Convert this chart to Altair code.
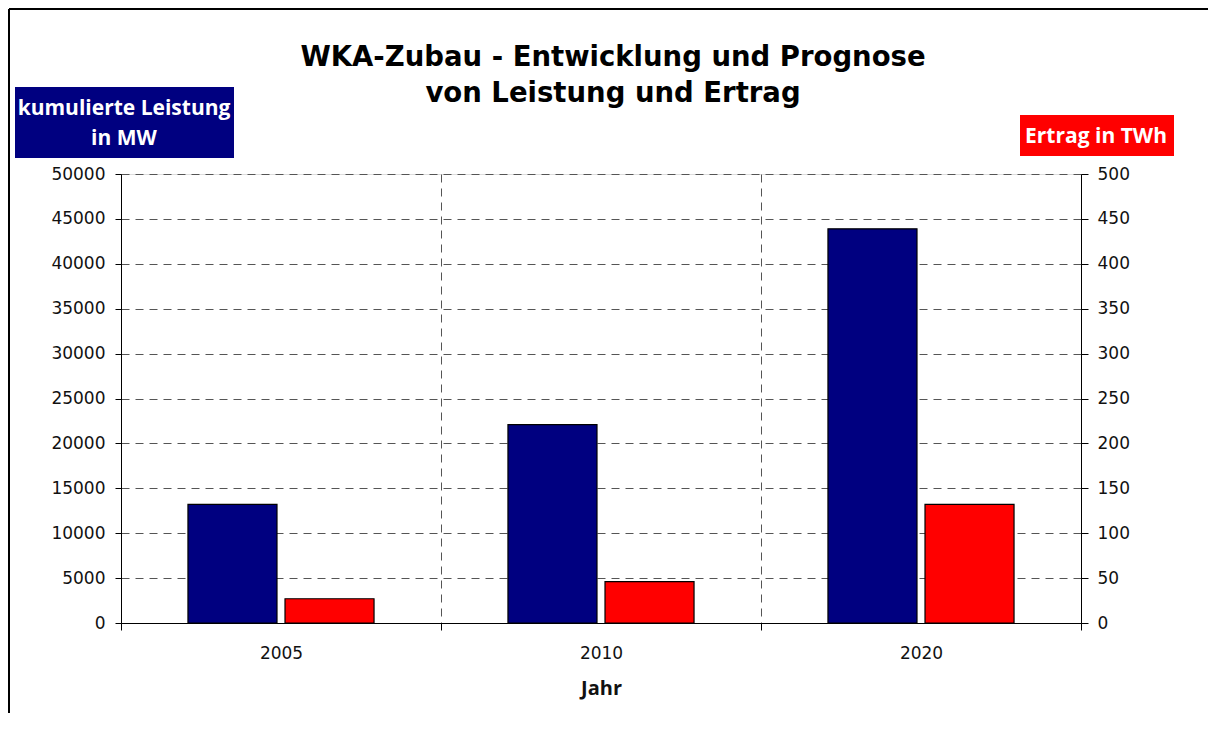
import altair as alt
import pandas as pd

# ---- data ----
years = ["2005", "2010", "2020"]
leistung_mw = [13200, 22100, 43900]      # kumulierte Leistung in MW (left axis)
ertrag_twh = [27, 46, 132]               # Ertrag in TWh (right axis)
series = ["Leistung", "Ertrag"]
left_ticks = [0, 5000, 10000, 15000, 20000, 25000, 30000, 35000, 40000, 45000, 50000]
right_ticks = [0, 50, 100, 150, 200, 250, 300, 350, 400, 450, 500]

title_lines = ["WKA-Zubau - Entwicklung und Prognose", "von Leistung und Ertrag"]
left_label = ["kumulierte Leistung", "in MW"]
right_label = ["Ertrag in TWh"]

df = pd.DataFrame({
    "Jahr": years * 2,
    "Serie": [series[0]] * 3 + [series[1]] * 3,
    "Wert": leistung_mw + ertrag_twh,
})

W, H = 960, 449
GRID = "#555555"
DASH = [8, 6]
TICKFONT = "DejaVu Sans"
BOLD = "Open Sans"

xscale = alt.Scale(domain=years, paddingInner=0, paddingOuter=0)
xoff = alt.XOffset("Serie:N", scale=alt.Scale(domain=series, paddingInner=0.0825, paddingOuter=0.69))

x_axis = alt.Axis(
    title="Jahr", tickBand="extent", grid=True, gridDash=DASH, gridColor=GRID, gridWidth=1,
    labelAngle=0, labelFont=TICKFONT, labelFontSize=17, labelColor="#111111",
    labelPadding=15, tickSize=7, tickColor="black", domainColor="black",
    titleFont=BOLD, titleFontSize=20, titleFontWeight="bold", titleColor="#111111",
    titleY=71, titleBaseline="alphabetic",
)
x_enc = alt.X("Jahr:N", scale=xscale, axis=x_axis)

base = alt.Chart(df)

blue = base.transform_filter(alt.datum.Serie == series[0]).mark_bar(
    stroke="black", strokeWidth=1.2, color="#000080"
).encode(
    x=x_enc,
    xOffset=xoff,
    y=alt.Y("Wert:Q", title=None, scale=alt.Scale(domain=[0, 50000], nice=False, zero=True),
            axis=alt.Axis(orient="left", values=left_ticks, format="d", grid=True,
                          gridDash=DASH, gridColor=GRID, gridWidth=1,
                          labelFont=TICKFONT, labelFontSize=17, labelColor="#111111",
                          labelPadding=10, tickSize=6, tickColor="black", domainColor="black")),
)

red = base.transform_filter(alt.datum.Serie == series[1]).mark_bar(
    stroke="black", strokeWidth=1.2, color="#FF0000"
).encode(
    x=x_enc,
    xOffset=xoff,
    y=alt.Y("Wert:Q", title=None, scale=alt.Scale(domain=[0, 500], nice=False, zero=True),
            axis=alt.Axis(orient="right", values=right_ticks, format="d", grid=False,
                          labelFont=TICKFONT, labelFontSize=17, labelColor="#111111",
                          labelPadding=9, tickSize=7, tickColor="black", domainColor="black")),
)

one = pd.DataFrame({"k": [0]})
ann = alt.Chart(one)

title1 = ann.mark_text(text=title_lines[0], font="DejaVu Sans", fontSize=27.5, fontWeight="bold",
                       color="black", align="center", baseline="alphabetic").encode(
    x=alt.value(492), y=alt.value(-108))
title2 = ann.mark_text(text=title_lines[1], font="DejaVu Sans", fontSize=27.5, fontWeight="bold",
                       color="black", align="center", baseline="alphabetic").encode(
    x=alt.value(492), y=alt.value(-72))

lbox = ann.mark_rect(color="#000080").encode(
    x=alt.value(-106), x2=alt.value(113), y=alt.value(-87), y2=alt.value(-16))
ltxt1 = ann.mark_text(text=left_label[0], font=BOLD, fontSize=21, fontWeight="bold",
                      color="white", align="center", baseline="alphabetic").encode(
    x=alt.value(3), y=alt.value(-59))
ltxt2 = ann.mark_text(text=left_label[1], font=BOLD, fontSize=21, fontWeight="bold",
                      color="white", align="center", baseline="alphabetic").encode(
    x=alt.value(3), y=alt.value(-29))

rbox = ann.mark_rect(color="#FF0000").encode(
    x=alt.value(899), x2=alt.value(1053), y=alt.value(-59), y2=alt.value(-18))
rtxt = ann.mark_text(text=right_label[0], font=BOLD, fontSize=21, fontWeight="bold",
                     color="white", align="center", baseline="alphabetic").encode(
    x=alt.value(975), y=alt.value(-31))

frame_left = ann.mark_rule(color="black", strokeWidth=2).encode(
    x=alt.value(-112), y=alt.value(-165), y2=alt.value(H + 95))
frame_top = ann.mark_rule(color="black", strokeWidth=2).encode(
    x=alt.value(-112), x2=alt.value(W + 130), y=alt.value(-165))

chart = alt.layer(
    blue, red, title1, title2, lbox, ltxt1, ltxt2, rbox, rtxt, frame_left, frame_top
).resolve_scale(y="independent").properties(
    width=W, height=H,
    autosize=alt.AutoSizeParams(type="none"),
    padding={"left": 113, "top": 166, "right": 127, "bottom": 90},
).configure_view(stroke=None).configure(background="white")

chart.save("out.html", embed_options={"renderer": "svg", "actions": False})
